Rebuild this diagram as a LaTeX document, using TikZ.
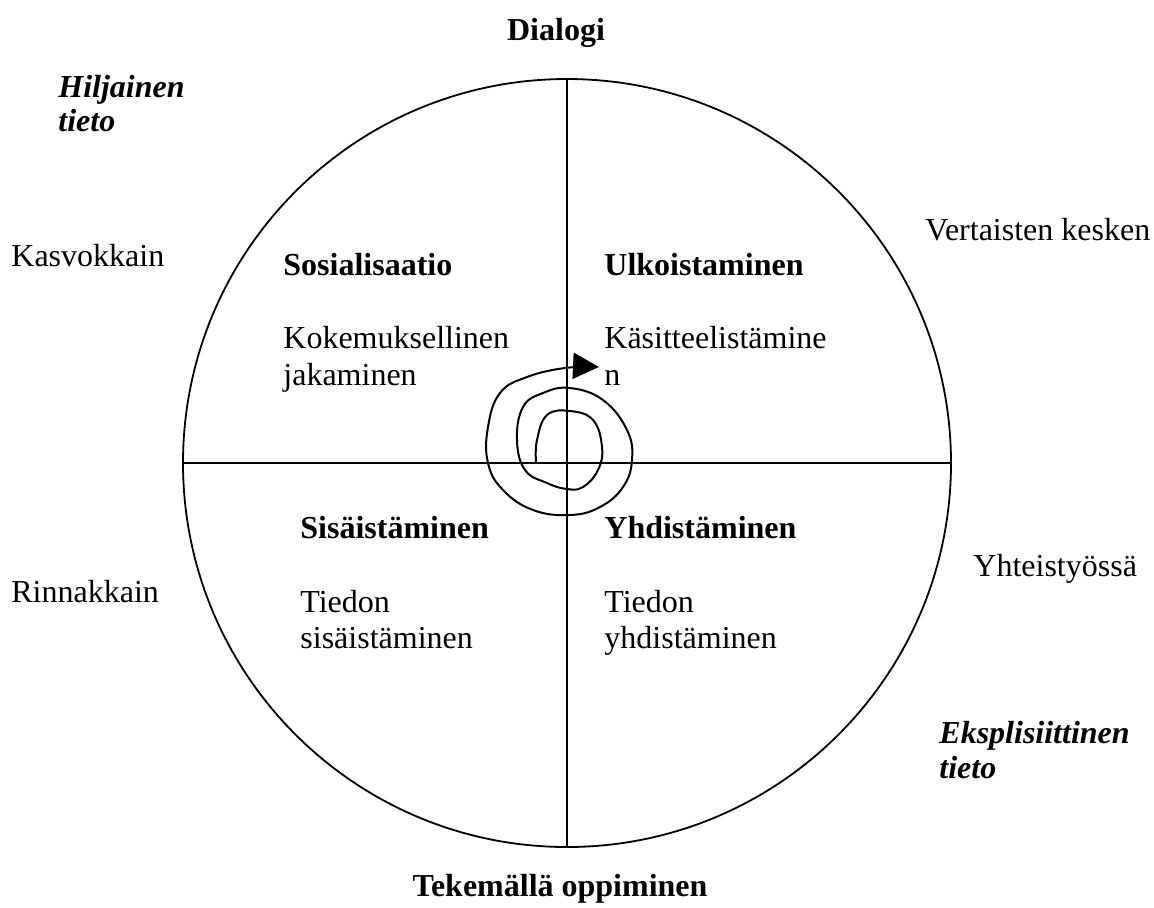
\documentclass[tikz,border=0pt]{standalone}
\usepackage{fontspec}
\setmainfont{Liberation Serif}
\usetikzlibrary{arrows.meta}

\begin{document}
\begin{tikzpicture}[x=0.5pt, y=-0.5pt]
  \tikzstyle{txt}=[
      font = \fontsize{16}{18.4}\selectfont
    , anchor = base west, inner sep = 0pt
    ]
  \tikzstyle{heading}=[txt, font = \fontsize{16}{18.4}\selectfont\bfseries]
  \tikzstyle{corner}=[txt, font = \fontsize{16}{18.4}\selectfont\bfseries\itshape]
  \tikzstyle{wheel}=[circle, draw = black, line width = 0.9pt
    , minimum size = 384pt, inner sep = 0pt]
  \tikzstyle{axis}=[line width = 0.9pt]
  \tikzstyle{spiral}=[line width = 1pt
    , -{Triangle[length = 13pt, width = 13pt]}]

  \useasboundingbox (0,0) rectangle (1154,907);

  \node[wheel] (w) at (567,463) { };
  \draw[axis] (w.north) -- (w.south);
  \draw[axis] (w.west) -- (w.east);

  % spiral in the middle
  \coordinate (sstart) at (536,462);
  \coordinate (stip) at (599,367);
  \draw[spiral] plot[smooth, tension = 0.7] coordinates {
      (sstart) (537,440) (547,415) (570,411) (593,420) (602,447)
      (598,470) (583,487) (567,489) (547,483) (525,470) (517,440)
      (523,407) (543,393) (570,388) (603,400) (627,430) (632,460)
      (623,487) (600,507) (570,515) (533,510) (503,490) (488,463)
      (488,427) (500,393) (527,377) (565,368) (stip)};

  % outside the circle
  \node[heading, anchor = base] (dialogi) at (556,40) {Dialogi};
  \node[heading, anchor = base] (tekemalla) at (560,896) {Tekemällä oppiminen};
  \node[corner] (hilj1) at (58,97) {Hiljainen};
  \node[corner] (hilj2) at (58,131) {tieto};
  \node[corner] (eksp1) at (939,743) {Eksplisiittinen};
  \node[corner] (eksp2) at (939,778) {tieto};
  \node[txt] (kasvokkain) at (11,266) {Kasvokkain};
  \node[txt] (rinnakkain) at (11,602) {Rinnakkain};
  \node[txt] (vertaisten) at (925,240) {Vertaisten kesken};
  \node[txt] (yhteisty) at (973,576) {Yhteistyössä};

  % quadrants
  \node[heading] (sos) at (283,275) {Sosialisaatio};
  \node[txt] (sos1) at (283,348) {Kokemuksellinen};
  \node[txt] (sos2) at (283,385) {jakaminen};
  \node[heading] (ulk) at (604,275) {Ulkoistaminen};
  \node[txt] (ulk1) at (604,348) {Käsitteelistämine};
  \node[txt] (ulk2) at (604,385) {n};
  \node[heading] (sis) at (300,538) {Sisäistäminen};
  \node[txt] (sis1) at (300,612) {Tiedon};
  \node[txt] (sis2) at (300,648) {sisäistäminen};
  \node[heading] (yhd) at (604,538) {Yhdistäminen};
  \node[txt] (yhd1) at (604,612) {Tiedon};
  \node[txt] (yhd2) at (604,648) {yhdistäminen};

\end{tikzpicture}
\end{document}
